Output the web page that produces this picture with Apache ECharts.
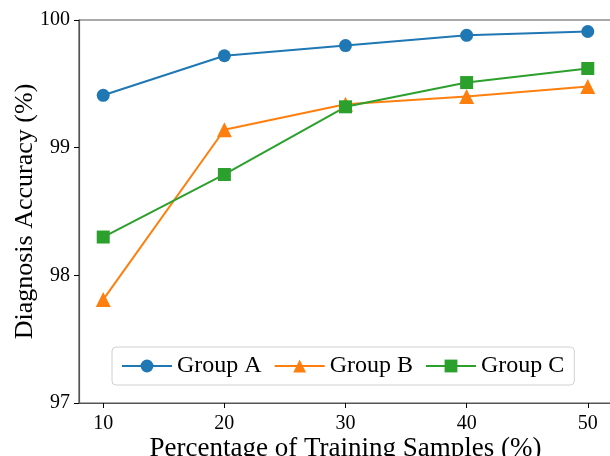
<!DOCTYPE html>
<html>
<head>
<meta charset="utf-8">
<script src="https://cdn.jsdelivr.net/npm/echarts@6/dist/echarts.min.js"></script>
<style>html,body{margin:0;padding:0;background:#fff}#c{width:610px;height:456px}</style>
</head>
<body>
<div id="c"></div>
<script>
var xValues = [10, 20, 30, 40, 50];
var groupA = [99.41, 99.72, 99.80, 99.88, 99.91];
var groupB = [97.81, 99.14, 99.34, 99.40, 99.48];
var groupC = [98.30, 98.79, 99.32, 99.51, 99.62];
var xTicks = [10, 20, 30, 40, 50];
var yTicks = [97, 98, 99, 100];

var font = '"Liberation Serif", "DejaVu Serif", serif';
function pairs(vals){ return xValues.map(function(x,i){ return [x, vals[i]]; }); }

var chart = echarts.init(document.getElementById('c'));
chart.setOption({
  animation: false,
  textStyle: {fontFamily: font},
  grid: {left: 79, top: 20, right: -2, bottom: 53, containLabel: false, outerBoundsMode: 'none',
         show: true, borderColor: '#555', borderWidth: 1.2, backgroundColor: 'transparent'},
  xAxis: {
    type: 'value', min: 8, max: 52,
    name: 'Percentage of Training Samples (%)', nameLocation: 'middle', nameGap: 32,
    nameMoveOverlap: false,
    nameTextStyle: {fontFamily: font, fontSize: 27, color: '#000'},
    axisLine: {show: true, onZero: false, lineStyle: {color: '#555', width: 1.2}},
    axisTick: {show: true, length: 5, customValues: xTicks, lineStyle: {color: '#000'}},
    axisLabel: {customValues: xTicks, fontFamily: font, fontSize: 20, color: '#000', margin: 11},
    splitLine: {show: false}
  },
  yAxis: {
    type: 'value', min: 97, max: 100, interval: 1,
    name: 'Diagnosis Accuracy (%)', nameLocation: 'middle', nameGap: 41,
    nameMoveOverlap: false,
    nameTextStyle: {fontFamily: font, fontSize: 26, color: '#000'},
    axisLine: {show: true, lineStyle: {color: '#555', width: 1.2}},
    axisTick: {show: true, length: 5, customValues: yTicks, lineStyle: {color: '#000'}},
    axisLabel: {customValues: yTicks, fontFamily: font, fontSize: 20, color: '#000', margin: 9},
    splitLine: {show: false}
  },
  legend: {
    left: 112, top: 347,
    padding: [7, 10, 7, 9],
    itemGap: 12, itemWidth: 50, itemHeight: 16,
    borderColor: '#d0d0d0', borderWidth: 1, borderRadius: 4,
    backgroundColor: 'rgba(255,255,255,0.8)',
    textStyle: {fontFamily: font, fontSize: 24, color: '#000'},
    data: ['Group A', 'Group B', 'Group C']
  },
  series: [
    {name: 'Group A', type: 'line', data: pairs(groupA), symbol: 'circle', symbolSize: 13,
     itemStyle: {color: '#1f77b4'}, lineStyle: {width: 2, color: '#1f77b4'}},
    {name: 'Group B', type: 'line', data: pairs(groupB), symbol: 'triangle', symbolSize: 15,
     itemStyle: {color: '#ff7f0e'}, lineStyle: {width: 2, color: '#ff7f0e'}},
    {name: 'Group C', type: 'line', data: pairs(groupC), symbol: 'rect', symbolSize: 13,
     itemStyle: {color: '#2ca02c'}, lineStyle: {width: 2, color: '#2ca02c'}}
  ]
});
</script>
</body>
</html>
